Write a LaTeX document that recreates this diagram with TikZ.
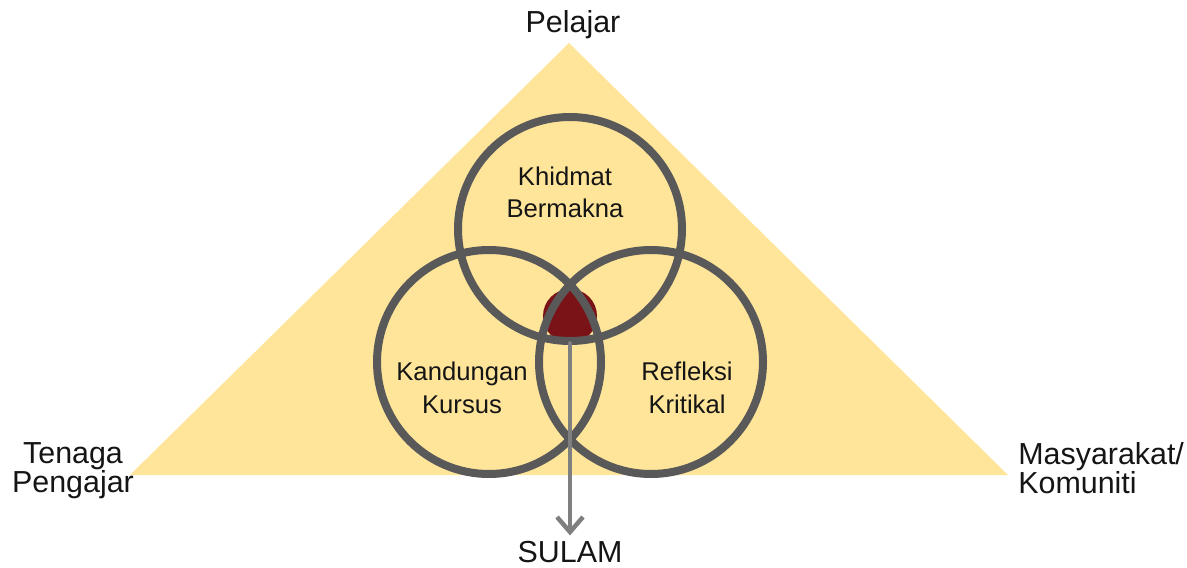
\documentclass[tikz,border=0pt]{standalone}
\usepackage{fontspec}
\setmainfont{Liberation Sans}
\usepackage{xcolor}
\usepackage{tikz}
\usetikzlibrary{arrows.meta,positioning}
\definecolor{sand}{HTML}{FFE599}
\definecolor{ring}{HTML}{595959}
\definecolor{core}{HTML}{7A1317}
\definecolor{stem}{HTML}{7F7F7F}
\definecolor{ink}{HTML}{151515}
\tikzset{
  ringnode/.style={circle,draw=ring,line width=0.16cm,minimum size=4.48cm,
                   inner sep=0pt},
  corelabel/.style={font=\fontsize{14.6}{18.4}\selectfont,text=ink,
                    align=center,anchor=base,inner sep=0pt},
  rolelabel/.style={font=\fontsize{17.3}{16.2}\selectfont,text=ink,
                    anchor=base,inner sep=0pt},
  arrowstem/.style={-{Straight Barb[length=0.3cm,width=0.52cm]},
                    line width=0.09cm,stem,line cap=round,line join=round},
}

\begin{document}
\begin{tikzpicture}
  \useasboundingbox (0,0) rectangle (23.74,11.34);
  % Triangle
  \fill[sand] (11.38,10.48) -- (20.16,1.84) -- (2.60,1.84) -- cycle;
  % Centre dot
  \node[circle,fill=core,minimum size=1.08cm,inner sep=0pt] (heart)
    at (11.40,5.02) {};
  % Rings
  \node[ringnode] (khidmat) at (11.40,6.76) {};
  \node[ringnode] (kandungan) at (9.78,4.10) {};
  \node[ringnode] (refleksi) at (13.02,4.10) {};
  % Ring labels
  \node[corelabel] (tkhidmat) at (11.30,6.98) {Khidmat\\Bermakna};
  \node[corelabel] (tkandungan) at (9.24,3.08) {Kandungan\\Kursus};
  \node[corelabel] (trefleksi) at (13.74,3.08) {Refleksi\\Kritikal};
  % Corner labels
  \node[rolelabel] (pelajar) at (11.46,10.68) {Pelajar};
  \node[rolelabel,align=center] (tenaga) at (1.46,1.50) {Tenaga\\Pengajar};
  \node[rolelabel,align=left,anchor=base west] (masyarakat) at (20.36,1.48)
    {Masyarakat/\\Komuniti};
  \node[rolelabel] (sulam) at (11.40,0.10) {SULAM};
  % Arrow
  \draw[arrowstem,shorten >=0.1cm] (heart.south) -- (sulam.north);
\end{tikzpicture}
\end{document}
